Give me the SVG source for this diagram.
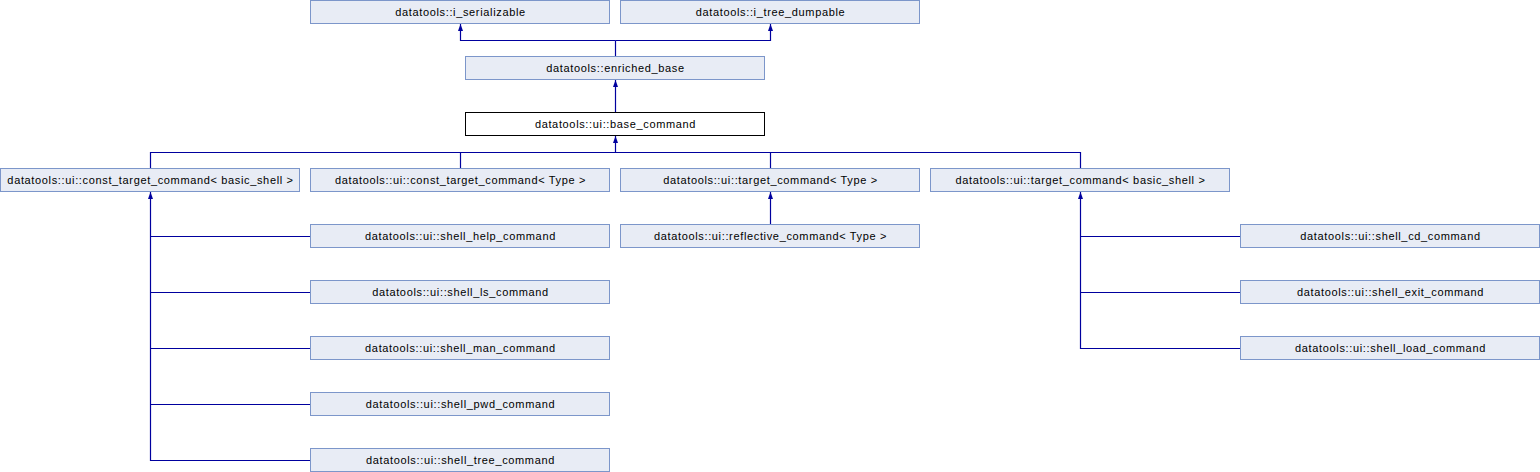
<svg xmlns="http://www.w3.org/2000/svg" width="1540" height="472" viewBox="0 0 1540 472">
<style>
.n rect{fill:#E8ECF5;stroke:#7C96CA;stroke-width:1}
.n.cur rect{fill:#FFFFFF;stroke:#000000}
.n text{font-family:"Liberation Sans",Arial,sans-serif;font-size:11px;letter-spacing:0.65px;fill:#000000;text-anchor:middle}
#edges path{fill:none;stroke:#00009E;stroke-width:1.2}
</style>
<defs>
<marker id="ah" viewBox="0 0 7 5" refX="7" refY="2.5" markerWidth="7" markerHeight="5" markerUnits="userSpaceOnUse" orient="auto">
<path d="M0,0 L7,2.5 L0,5 z" fill="#00009E"/>
</marker>
</defs>
<rect width="1540" height="472" fill="#FFFFFF"/>
<g id="edges">
<path d="M615.5,56.5 V40.5"/>
<path d="M615.5,40.5 H460.5 V24" marker-end="url(#ah)"/>
<path d="M615.5,40.5 H770.5 V24" marker-end="url(#ah)"/>
<path d="M615.5,112.5 V80" marker-end="url(#ah)"/>
<path d="M150.5,168.5 V152.5 H1080.5 V168.5"/>
<path d="M460.5,152.5 V168.5"/>
<path d="M770.5,152.5 V168.5"/>
<path d="M615.5,152.5 V136" marker-end="url(#ah)"/>
<path d="M770.5,224.5 V192" marker-end="url(#ah)"/>
<path d="M310.5,460.5 H150.5 V192" marker-end="url(#ah)"/>
<path d="M150.5,236.5 H310.5"/>
<path d="M150.5,292.5 H310.5"/>
<path d="M150.5,348.5 H310.5"/>
<path d="M150.5,404.5 H310.5"/>
<path d="M1240.5,348.5 H1080.5 V192" marker-end="url(#ah)"/>
<path d="M1080.5,236.5 H1240.5"/>
<path d="M1080.5,292.5 H1240.5"/>
</g>
<g id="i_serializable" class="n"><rect x="310.5" y="0.5" width="299" height="23"/><text x="460.5" y="16">datatools::i_serializable</text></g>
<g id="i_tree_dumpable" class="n"><rect x="620.5" y="0.5" width="299" height="23"/><text x="770.5" y="16">datatools::i_tree_dumpable</text></g>
<g id="enriched_base" class="n"><rect x="465.5" y="56.5" width="299" height="23"/><text x="615.5" y="72">datatools::enriched_base</text></g>
<g id="base_command" class="n cur"><rect x="465.5" y="112.5" width="299" height="23"/><text x="615.5" y="128">datatools::ui::base_command</text></g>
<g id="const_target_command_basic_shell" class="n"><rect x="0.5" y="168.5" width="299" height="23"/><text x="150.5" y="184">datatools::ui::const_target_command&lt; basic_shell &gt;</text></g>
<g id="const_target_command_type" class="n"><rect x="310.5" y="168.5" width="299" height="23"/><text x="460.5" y="184">datatools::ui::const_target_command&lt; Type &gt;</text></g>
<g id="target_command_type" class="n"><rect x="620.5" y="168.5" width="299" height="23"/><text x="770.5" y="184">datatools::ui::target_command&lt; Type &gt;</text></g>
<g id="target_command_basic_shell" class="n"><rect x="930.5" y="168.5" width="299" height="23"/><text x="1080.5" y="184">datatools::ui::target_command&lt; basic_shell &gt;</text></g>
<g id="reflective_command" class="n"><rect x="620.5" y="224.5" width="299" height="23"/><text x="770.5" y="240">datatools::ui::reflective_command&lt; Type &gt;</text></g>
<g id="shell_help_command" class="n"><rect x="310.5" y="224.5" width="299" height="23"/><text x="460.5" y="240">datatools::ui::shell_help_command</text></g>
<g id="shell_ls_command" class="n"><rect x="310.5" y="280.5" width="299" height="23"/><text x="460.5" y="296">datatools::ui::shell_ls_command</text></g>
<g id="shell_man_command" class="n"><rect x="310.5" y="336.5" width="299" height="23"/><text x="460.5" y="352">datatools::ui::shell_man_command</text></g>
<g id="shell_pwd_command" class="n"><rect x="310.5" y="392.5" width="299" height="23"/><text x="460.5" y="408">datatools::ui::shell_pwd_command</text></g>
<g id="shell_tree_command" class="n"><rect x="310.5" y="448.5" width="299" height="23"/><text x="460.5" y="464">datatools::ui::shell_tree_command</text></g>
<g id="shell_cd_command" class="n"><rect x="1240.5" y="224.5" width="299" height="23"/><text x="1390.5" y="240">datatools::ui::shell_cd_command</text></g>
<g id="shell_exit_command" class="n"><rect x="1240.5" y="280.5" width="299" height="23"/><text x="1390.5" y="296">datatools::ui::shell_exit_command</text></g>
<g id="shell_load_command" class="n"><rect x="1240.5" y="336.5" width="299" height="23"/><text x="1390.5" y="352">datatools::ui::shell_load_command</text></g>
</svg>
